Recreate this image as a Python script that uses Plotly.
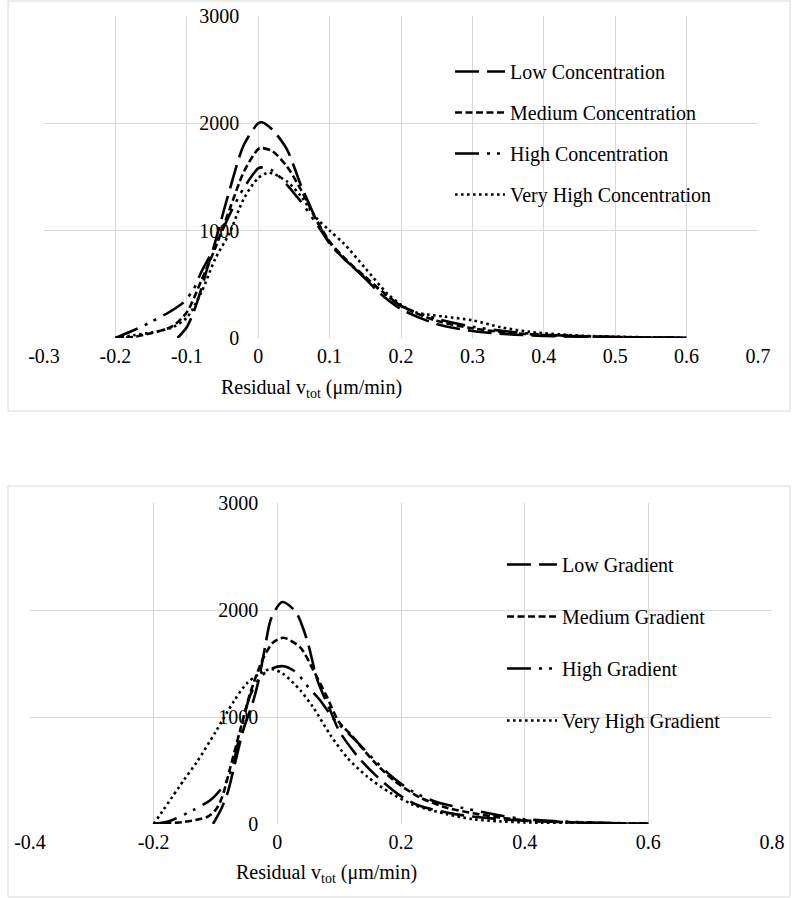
import plotly.graph_objects as go

# ---------------- DATA ----------------
# Top chart: concentration
top_low_x = [-0.113, -0.1, -0.09, -0.08, -0.07, -0.06, -0.04, -0.02, 0.0, 0.005, 0.02, 0.04, 0.05, 0.06, 0.07, 0.08, 0.1, 0.12, 0.14, 0.17, 0.2, 0.25, 0.3, 0.35, 0.4, 0.45, 0.5, 0.55, 0.6]
top_low_y = [0, 100, 250, 450, 680, 900, 1380, 1800, 2000, 2010, 1940, 1760, 1600, 1420, 1270, 1120, 880, 740, 620, 420, 270, 130, 65, 35, 20, 12, 7, 4, 2]

top_med_x = [-0.2, -0.175, -0.15, -0.12, -0.1, -0.08, -0.06, -0.04, -0.02, 0.0, 0.005, 0.02, 0.04, 0.06, 0.08, 0.1, 0.12, 0.15, 0.2, 0.25, 0.3, 0.35, 0.4, 0.45, 0.5, 0.55, 0.6]
top_med_y = [0, 10, 45, 110, 240, 530, 840, 1200, 1550, 1760, 1770, 1740, 1600, 1380, 1120, 900, 750, 570, 300, 160, 90, 50, 28, 17, 10, 5, 2]

top_high_x = [-0.2, -0.165, -0.15, -0.125, -0.105, -0.09, -0.08, -0.06, -0.04, -0.02, 0.0, 0.005, 0.02, 0.04, 0.05, 0.06, 0.08, 0.1, 0.12, 0.15, 0.2, 0.25, 0.3, 0.35, 0.4, 0.45, 0.5, 0.55, 0.6]
top_high_y = [0, 100, 150, 240, 330, 460, 610, 860, 1150, 1400, 1580, 1590, 1560, 1430, 1350, 1270, 1080, 890, 740, 560, 300, 180, 105, 60, 32, 18, 10, 5, 2]

top_vhigh_x = [-0.2, -0.175, -0.15, -0.12, -0.1, -0.08, -0.06, -0.04, -0.02, 0.0, 0.015, 0.04, 0.06, 0.08, 0.1, 0.12, 0.15, 0.18, 0.2, 0.22, 0.26, 0.3, 0.34, 0.38, 0.45, 0.5, 0.55, 0.6]
top_vhigh_y = [0, 25, 50, 100, 190, 420, 740, 980, 1300, 1490, 1540, 1460, 1320, 1130, 1000, 880, 650, 420, 310, 240, 200, 165, 100, 58, 22, 12, 6, 2]

# Bottom chart: gradient
bot_low_x = [-0.104, -0.09, -0.08, -0.07, -0.055, -0.04, -0.03, -0.02, -0.01, 0.008, 0.03, 0.048, 0.065, 0.085, 0.1, 0.13, 0.16, 0.2, 0.23, 0.29, 0.35, 0.4, 0.5, 0.6]
bot_low_y = [0, 150, 300, 530, 880, 1130, 1350, 1650, 1920, 2075, 1980, 1720, 1340, 1070, 870, 630, 450, 260, 170, 90, 50, 30, 12, 3]

bot_med_x = [-0.2, -0.15, -0.114, -0.1, -0.09, -0.076, -0.06, -0.044, -0.022, -0.006, 0.01, 0.037, 0.058, 0.08, 0.1, 0.12, 0.14, 0.16, 0.19, 0.23, 0.275, 0.317, 0.36, 0.4, 0.5, 0.6]
bot_med_y = [0, 20, 65, 130, 240, 530, 880, 1220, 1560, 1700, 1740, 1650, 1440, 1190, 950, 830, 690, 560, 400, 250, 150, 100, 60, 35, 12, 3]

bot_high_x = [-0.2, -0.178, -0.136, -0.108, -0.092, -0.079, -0.071, -0.06, -0.044, -0.028, -0.01, 0.01, 0.03, 0.05, 0.07, 0.09, 0.1, 0.13, 0.16, 0.19, 0.22, 0.26, 0.3, 0.35, 0.4, 0.5, 0.6]
bot_high_y = [0, 20, 130, 225, 320, 430, 570, 850, 1200, 1370, 1450, 1475, 1420, 1280, 1150, 990, 930, 760, 580, 420, 300, 200, 150, 90, 45, 15, 3]

bot_vhigh_x = [-0.2, -0.15, -0.13, -0.1, -0.07, -0.05, -0.03, -0.01, 0.01, 0.037, 0.058, 0.086, 0.113, 0.146, 0.183, 0.22, 0.275, 0.317, 0.36, 0.4, 0.5, 0.6]
bot_vhigh_y = [0, 420, 580, 860, 1150, 1310, 1400, 1450, 1400, 1250, 1090, 830, 620, 440, 290, 180, 90, 45, 25, 15, 6, 2]

top_names = ["Low Concentration", "Medium Concentration", "High Concentration", "Very High Concentration"]
bot_names = ["Low Gradient", "Medium Gradient", "High Gradient", "Very High Gradient"]

top_xticks = [-0.3, -0.2, -0.1, 0, 0.1, 0.2, 0.3, 0.4, 0.5, 0.6, 0.7]
top_xlabels = ["-0.3", "-0.2", "-0.1", "0", "0.1", "0.2", "0.3", "0.4", "0.5", "0.6", "0.7"]
bot_xticks = [-0.4, -0.2, 0, 0.2, 0.4, 0.6, 0.8]
bot_xlabels = ["-0.4", "-0.2", "0", "0.2", "0.4", "0.6", "0.8"]
yticks = [0, 1000, 2000, 3000]
ylabels = ["0", "1000", "2000", "3000"]
xtitle = "Residual v<sub>tot</sub> (μm/min)"

# ---------------- STYLE ----------------
W, H = 800, 898
FONT = "Liberation Serif, Times New Roman, serif"
FS = 20
GRID = "#d9d9d9"
LW = 2.6
dashes = ["24px,8px", "7px,3.5px", "24px,8px,3px,7px,3px,8px", "2.6px,3.4px"]

top_xr = [-0.3, 0.7]
bot_xr = [-0.4, 0.8]
top_xdom = [44 / W, 758 / W]
top_ydom = [1 - 338 / H, 1 - 16 / H]
bot_xdom = [30 / W, 772 / W]
bot_ydom = [1 - 824 / H, 1 - 503 / H]


def zero_pos(dom, rng):
    return dom[0] + (0 - rng[0]) / (rng[1] - rng[0]) * (dom[1] - dom[0])


fig = go.Figure()

top_series = [(top_low_x, top_low_y), (top_med_x, top_med_y), (top_high_x, top_high_y), (top_vhigh_x, top_vhigh_y)]
bot_series = [(bot_low_x, bot_low_y), (bot_med_x, bot_med_y), (bot_high_x, bot_high_y), (bot_vhigh_x, bot_vhigh_y)]

for i, ((xs, ys), name) in enumerate(zip(top_series, top_names)):
    fig.add_trace(go.Scatter(
        x=xs, y=ys, name=name, mode="lines", xaxis="x", yaxis="y",
        line=dict(color="black", width=LW, dash=dashes[i], shape="spline", smoothing=0.8),
        legend="legend", legendgroup="t%d" % i,
    ))
for i, ((xs, ys), name) in enumerate(zip(bot_series, bot_names)):
    fig.add_trace(go.Scatter(
        x=xs, y=ys, name=name, mode="lines", xaxis="x2", yaxis="y2",
        line=dict(color="black", width=LW, dash=dashes[i], shape="spline", smoothing=0.8),
        legend="legend2", legendgroup="b%d" % i,
    ))

axis_common = dict(showgrid=True, gridcolor=GRID, gridwidth=1, zeroline=False, showline=False,
                   automargin=False, ticks="", tickfont=dict(family=FONT, size=FS, color="black"))

fig.update_layout(
    width=W, height=H, autosize=False,
    margin=dict(l=0, r=0, t=0, b=0, pad=0, autoexpand=False),
    paper_bgcolor="white", plot_bgcolor="white",
    font=dict(family=FONT, size=FS, color="black"),
    xaxis=dict(domain=top_xdom, range=top_xr, anchor="y", tickvals=top_xticks, ticktext=top_xlabels,
               ticklabelstandoff=4, **axis_common),
    yaxis=dict(domain=top_ydom, range=[0, 3000], anchor="free", position=zero_pos(top_xdom, top_xr),
               tickvals=yticks, ticktext=ylabels, ticklabelstandoff=19, **axis_common),
    xaxis2=dict(domain=bot_xdom, range=bot_xr, anchor="y2", tickvals=bot_xticks, ticktext=bot_xlabels,
                ticklabelstandoff=4, **axis_common),
    yaxis2=dict(domain=bot_ydom, range=[0, 3000], anchor="free",
                position=zero_pos(bot_xdom, bot_xr), tickvals=yticks, ticktext=ylabels,
                ticklabelstandoff=19, **axis_common),
    legend=dict(x=450 / W, y=1 - 52 / H, xanchor="left", yanchor="top", bgcolor="rgba(0,0,0,0)",
                font=dict(family=FONT, size=FS), itemwidth=50, tracegroupgap=12, traceorder="grouped"),
    legend2=dict(x=502 / W, y=1 - 545 / H, xanchor="left", yanchor="top", bgcolor="rgba(0,0,0,0)",
                 font=dict(family=FONT, size=FS), itemwidth=50, tracegroupgap=23, traceorder="grouped"),
    showlegend=True,
    shapes=[
        dict(type="rect", xref="paper", yref="paper", x0=8 / W, x1=790 / W, y0=1 - 411 / H, y1=1 - 1 / H,
             line=dict(color=GRID, width=1), fillcolor="rgba(0,0,0,0)", layer="below"),
        dict(type="rect", xref="paper", yref="paper", x0=8 / W, x1=790 / W, y0=1 - 897 / H, y1=1 - 486 / H,
             line=dict(color=GRID, width=1), fillcolor="rgba(0,0,0,0)", layer="below"),
    ],
    annotations=[
        dict(text=xtitle, xref="paper", yref="paper", x=311 / W, y=1 - 388 / H, xanchor="center",
             yanchor="middle", showarrow=False, font=dict(family=FONT, size=FS, color="black")),
        dict(text=xtitle, xref="paper", yref="paper", x=326 / W, y=1 - 873 / H, xanchor="center",
             yanchor="middle", showarrow=False, font=dict(family=FONT, size=FS, color="black")),
    ],
)

fig.write_html("out.html", config={"displayModeBar": False},
               post_script="document.body.style.margin='0';document.body.style.padding='0';")
